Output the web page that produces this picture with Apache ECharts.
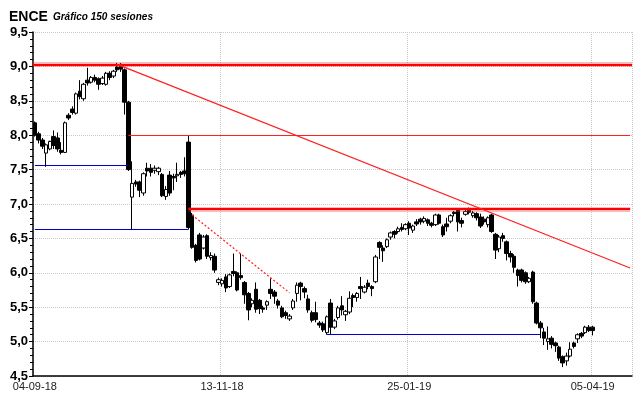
<!DOCTYPE html>
<html>
<head>
<meta charset="utf-8">
<script src="https://cdn.jsdelivr.net/npm/echarts@6/dist/echarts.min.js"></script>
<style>
  html, body { margin: 0; padding: 0; background: #fff; }
  #chart { width: 640px; height: 398px; }
</style>
</head>
<body>
<div id="chart"></div>
<script>
// sessions shown on the x axis (150 candles + empty room on the right)
const slots = 160
const tickIdx = [0, 50, 100, 149]
const tickLabels = ['04-09-18', '13-11-18', '25-01-19', '05-04-19']

// candles: [open, close, low, high]
const candles = [
  [8.18, 8.00, 7.98, 8.20], [8.02, 7.93, 7.88, 8.05], [7.93, 7.84, 7.80, 7.96], [7.74, 7.86, 7.54, 7.88],
  [7.80, 7.91, 7.78, 7.92], [7.98, 7.85, 7.80, 8.07], [7.96, 7.80, 7.76, 8.04], [7.78, 7.75, 7.72, 7.90],
  [7.75, 8.18, 7.74, 8.20], [8.29, 8.25, 8.22, 8.32], [8.38, 8.33, 8.30, 8.42], [8.32, 8.60, 8.30, 8.62],
  [8.64, 8.56, 8.52, 8.80], [8.53, 8.74, 8.50, 8.76], [8.80, 8.76, 8.72, 8.98], [8.77, 8.84, 8.75, 8.86],
  [8.84, 8.80, 8.77, 8.88], [8.82, 8.74, 8.66, 8.84], [8.75, 8.83, 8.73, 8.86], [8.74, 8.90, 8.72, 8.92],
  [8.90, 8.84, 8.80, 8.93], [8.86, 8.93, 8.83, 8.95], [8.99, 8.95, 8.92, 9.05], [9.03, 8.96, 8.92, 9.05],
  [8.95, 8.48, 8.30, 8.97], [8.48, 7.50, 7.48, 8.50], [7.10, 7.30, 6.63, 7.62], [7.32, 7.29, 7.25, 7.35],
  [7.32, 7.20, 7.10, 7.34], [7.16, 7.44, 7.12, 7.46], [7.52, 7.48, 7.40, 7.60], [7.52, 7.46, 7.40, 7.58],
  [7.49, 7.52, 7.44, 7.56], [7.47, 7.52, 7.42, 7.54], [7.43, 7.12, 7.10, 7.45], [7.11, 7.21, 7.06, 7.26],
  [7.42, 7.16, 7.12, 7.48], [7.40, 7.38, 7.20, 7.44], [7.41, 7.43, 7.32, 7.60], [7.46, 7.43, 7.38, 7.48],
  [7.48, 7.44, 7.40, 7.68], [7.90, 6.66, 6.63, 7.99], [6.84, 6.37, 6.35, 6.87], [6.40, 6.18, 6.15, 6.42],
  [6.55, 6.20, 6.18, 6.58], [6.36, 6.52, 6.34, 6.55], [6.54, 6.24, 6.20, 6.56], [6.22, 6.25, 6.18, 6.30],
  [6.24, 6.04, 6.00, 6.28], [5.86, 5.90, 5.82, 5.93], [5.84, 5.89, 5.80, 5.92], [5.94, 5.78, 5.72, 5.98],
  [5.80, 5.97, 5.78, 5.99], [6.02, 5.99, 5.95, 6.28], [6.00, 5.75, 5.73, 6.02], [5.96, 5.93, 5.90, 6.28],
  [5.86, 5.68, 5.55, 5.88], [5.70, 5.46, 5.31, 5.72], [5.55, 5.60, 5.50, 5.63], [5.76, 5.47, 5.42, 5.86],
  [5.60, 5.48, 5.40, 5.62], [5.49, 5.47, 5.42, 5.52], [5.53, 5.58, 5.46, 5.60], [5.76, 5.70, 5.62, 5.92],
  [5.72, 5.66, 5.55, 5.75], [5.59, 5.53, 5.48, 5.62], [5.49, 5.36, 5.34, 5.52], [5.42, 5.38, 5.33, 5.45],
  [5.33, 5.37, 5.30, 5.40], [5.49, 5.59, 5.46, 5.62], [5.70, 5.82, 5.58, 5.86], [5.85, 5.80, 5.60, 5.87],
  [5.77, 5.72, 5.63, 5.80], [5.62, 5.46, 5.42, 5.68], [5.42, 5.31, 5.28, 5.45], [5.42, 5.32, 5.28, 5.58],
  [5.27, 5.24, 5.20, 5.30], [5.26, 5.17, 5.14, 5.29], [5.13, 5.36, 5.10, 5.38], [5.56, 5.21, 5.11, 5.62],
  [5.21, 5.30, 5.18, 5.33], [5.35, 5.49, 5.32, 5.52], [5.52, 5.46, 5.38, 5.66], [5.39, 5.44, 5.30, 5.46],
  [5.43, 5.63, 5.40, 5.73], [5.67, 5.64, 5.50, 5.70], [5.64, 5.70, 5.58, 5.72], [5.80, 5.77, 5.62, 5.94],
  [5.72, 5.79, 5.70, 5.82], [5.85, 5.80, 5.76, 5.90], [5.80, 5.77, 5.66, 5.82], [5.87, 6.23, 5.85, 6.26],
  [6.44, 6.37, 6.20, 6.46], [6.36, 6.32, 6.16, 6.40], [6.38, 6.48, 6.36, 6.50], [6.52, 6.58, 6.48, 6.60],
  [6.60, 6.56, 6.50, 6.62], [6.60, 6.64, 6.57, 6.67], [6.66, 6.63, 6.60, 6.72], [6.64, 6.70, 6.62, 6.72],
  [6.72, 6.65, 6.55, 6.75], [6.62, 6.68, 6.58, 6.70], [6.74, 6.71, 6.68, 6.78], [6.78, 6.74, 6.70, 6.80],
  [6.75, 6.79, 6.72, 6.82], [6.77, 6.72, 6.68, 6.79], [6.72, 6.69, 6.66, 6.74], [6.70, 6.84, 6.68, 6.86],
  [6.84, 6.72, 6.70, 6.86], [6.67, 6.55, 6.52, 6.70], [6.71, 6.67, 6.60, 6.80], [6.75, 6.83, 6.72, 6.85],
  [6.88, 6.86, 6.82, 6.90], [6.91, 6.74, 6.60, 6.93], [6.76, 6.72, 6.66, 6.80], [6.85, 6.89, 6.83, 6.92],
  [6.91, 6.88, 6.85, 6.95], [6.83, 6.87, 6.80, 6.90], [6.86, 6.80, 6.76, 6.88], [6.81, 6.68, 6.65, 6.86],
  [6.78, 6.74, 6.70, 6.82], [6.70, 6.80, 6.66, 6.82], [6.84, 6.60, 6.58, 6.86], [6.56, 6.33, 6.20, 6.58],
  [6.35, 6.52, 6.30, 6.55], [6.54, 6.50, 6.45, 6.58], [6.45, 6.28, 6.18, 6.47], [6.28, 6.23, 6.15, 6.32],
  [6.24, 6.08, 6.00, 6.27], [6.04, 5.96, 5.80, 6.06], [6.04, 5.89, 5.86, 6.06], [6.00, 5.87, 5.84, 6.02],
  [5.87, 5.92, 5.85, 5.94], [6.01, 5.58, 5.55, 6.03], [5.56, 5.27, 5.25, 5.58], [5.27, 5.20, 5.05, 5.30],
  [5.14, 5.05, 4.95, 5.20], [5.00, 5.04, 4.88, 5.22], [5.05, 4.96, 4.90, 5.08], [4.98, 4.94, 4.85, 5.00],
  [4.92, 4.76, 4.72, 4.94], [4.78, 4.69, 4.63, 4.80], [4.72, 4.79, 4.65, 4.84], [4.79, 4.89, 4.77, 4.99],
  [4.98, 4.93, 4.90, 5.00], [5.04, 5.10, 4.98, 5.12], [5.12, 5.08, 5.05, 5.14], [5.13, 5.21, 5.11, 5.23],
  [5.21, 5.16, 5.14, 5.24], [5.21, 5.16, 5.09, 5.23]
]

// drawn lines: [fromIndex, fromValue, toIndex, toValue]
const topLevel = 9.03
const thickRed = [[41, 6.93, 159, 6.93]]
const thinRed = [[25, 8.0, 159, 8.0], [22, 9.03, 159, 6.07]]
const dashedRed = [[42, 6.84, 68, 5.71]]
const blueLines = [[0, 7.56, 25, 7.56], [0, 6.63, 41, 6.63], [78, 5.11, 135, 5.11]]

const categories = []
for (let i = 0; i < slots; i++) {
  const k = tickIdx.indexOf(i)
  categories.push(k >= 0 ? tickLabels[k] : '')
}
const isTick = (i) => tickIdx.indexOf(i) >= 0

function seg(list, style) {
  return list.map(s => [
    { coord: [s[0], s[1]], lineStyle: style },
    { coord: [s[2], s[3]] }
  ])
}

const haloStyle = { color: 'rgba(255,60,60,0.35)', width: 5, type: 'solid' }
const coreStyle = { color: '#ff0000', width: 2, type: 'solid' }

const chart = echarts.init(document.getElementById('chart'))
chart.setOption({
  animation: false,
  backgroundColor: '#fff',
  title: {
    left: 4,
    top: 3,
    text: '{a|ENCE} {b|Gráfico 150 sesiones}',
    textStyle: {
      rich: {
        a: { fontFamily: 'Liberation Sans', fontWeight: 'bold', fontSize: 14, color: '#000' },
        b: { fontFamily: 'Liberation Sans', fontStyle: 'italic', fontSize: 10, color: '#000' }
      }
    }
  },
  grid: { left: 33, right: 8, top: 32, bottom: 22 },
  xAxis: {
    type: 'category',
    data: categories,
    boundaryGap: true,
    axisLine: { lineStyle: { color: '#000', width: 1.5 } },
    axisTick: { interval: isTick, alignWithLabel: true, length: 5, lineStyle: { color: '#000' } },
    axisLabel: {
      interval: isTick, color: '#222', fontFamily: 'Liberation Sans', fontSize: 11, margin: 5
    },
    splitLine: { show: true, interval: isTick, lineStyle: { color: '#c8c8c8', type: 'dotted' } }
  },
  yAxis: {
    type: 'value',
    min: 4.5,
    max: 9.5,
    interval: 0.5,
    axisLine: { show: true, lineStyle: { color: '#000', width: 1.5 } },
    axisTick: { show: true, length: 4, lineStyle: { color: '#000' } },
    minorTick: { show: true, splitNumber: 5, length: 3, lineStyle: { color: '#000' } },
    axisLabel: {
      color: '#000', fontFamily: 'Liberation Sans', fontWeight: 'bold', fontSize: 13, margin: 5,
      formatter: v => v.toFixed(1).replace('.', ',')
    },
    splitLine: { lineStyle: { color: '#c8c8c8', type: 'dotted' } }
  },
  series: [{
    type: 'candlestick',
    data: candles,
    barWidth: 4,
    itemStyle: {
      color: '#fff', color0: '#000',
      borderColor: '#000', borderColor0: '#000', borderWidth: 1
    },
    markLine: {
      silent: true,
      symbol: 'none',
      label: { show: false },
      data: [].concat(
        [{ yAxis: topLevel, lineStyle: haloStyle }, { yAxis: topLevel, lineStyle: coreStyle }],
        seg(thickRed, haloStyle),
        seg(thickRed, coreStyle),
        seg(thinRed, { color: '#ff2020', width: 1.2, type: 'solid' }),
        seg(dashedRed, { color: '#ff2020', width: 1.2, type: [2, 2] }),
        seg(blueLines, { color: '#0000c8', width: 1, type: 'solid' })
      )
    }
  }]
})
</script>
</body>
</html>
